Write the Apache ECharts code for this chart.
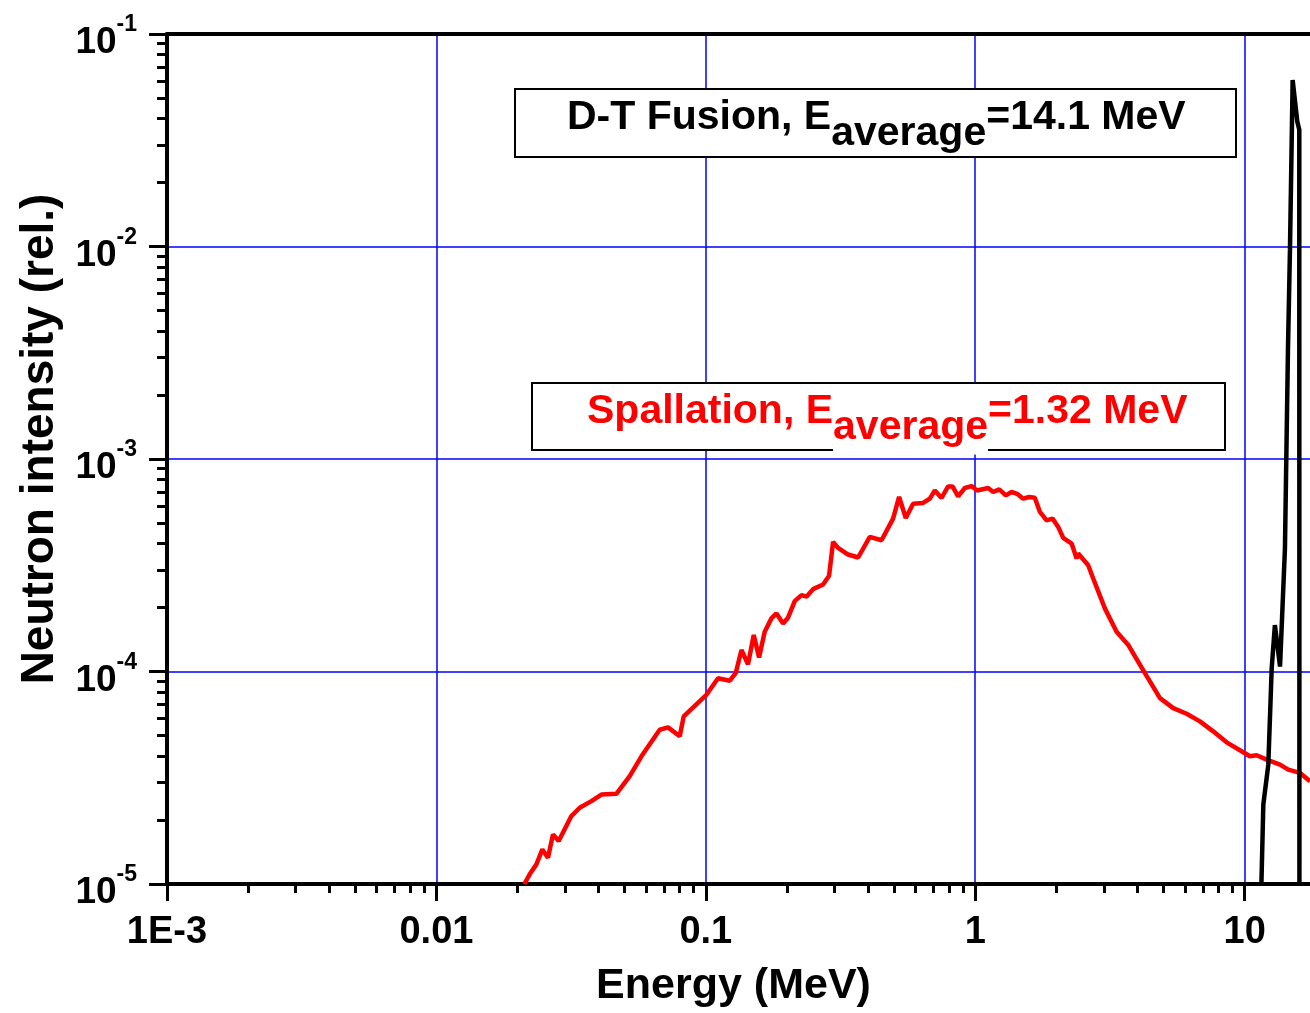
<!DOCTYPE html>
<html>
<head>
<meta charset="utf-8">
<script src="https://cdn.jsdelivr.net/npm/echarts@6/dist/echarts.min.js"></script>
<style>
html,body{margin:0;padding:0;background:#fff;}
#chart{width:1310px;height:1013px;}
</style>
</head>
<body>
<div id="chart"></div>
<script>
// ---- data ----
const spallationE = [0.0212,0.02219,0.0235,0.02473,0.02594,0.02708,0.02844,0.03169,0.03402,0.0376,0.04096,0.04656,0.05218,0.05768,0.06742,0.0724,0.07999,0.08277,0.1005,0.111,0.1227,0.1291,0.1356,0.1434,0.1506,0.1576,0.1654,0.1752,0.1829,0.1935,0.2019,0.2138,0.2265,0.2364,0.2501,0.2724,0.2867,0.2967,0.3097,0.3373,0.3674,0.4061,0.4489,0.4955,0.5216,0.5524,0.588,0.6405,0.6783,0.7079,0.7496,0.793,0.8235,0.8639,0.9149,0.9689,1.016,1.117,1.166,1.227,1.299,1.364,1.431,1.506,1.586,1.664,1.738,1.84,1.937,2.032,2.121,2.279,2.378,2.411,2.626,2.741,3.028,3.347,3.697,4.264,4.849,5.432,6.09,6.823,7.643,8.572,9.745,10.46,11.08,12.07,13.53,14.52,16.05,17.48];
const spallationI = [1.0e-5,1.11e-5,1.237e-5,1.455e-5,1.33e-5,1.71e-5,1.593e-5,2.088e-5,2.284e-5,2.455e-5,2.636e-5,2.656e-5,3.216e-5,3.99e-5,5.321e-5,5.459e-5,4.955e-5,6.148e-5,7.77e-5,9.3e-5,9.05e-5,9.82e-5,1.263e-4,1.082e-4,1.485e-4,1.163e-4,1.54e-4,1.778e-4,1.877e-4,1.684e-4,1.792e-4,2.145e-4,2.288e-4,2.249e-4,2.441e-4,2.569e-4,2.822e-4,4.074e-4,3.818e-4,3.552e-4,3.439e-4,4.3e-4,4.145e-4,5.241e-4,6.627e-4,5.28e-4,6.163e-4,6.21e-4,6.504e-4,7.114e-4,6.554e-4,7.43e-4,7.43e-4,6.668e-4,7.301e-4,7.46e-4,7.114e-4,7.301e-4,6.994e-4,7.193e-4,6.74e-4,6.994e-4,6.858e-4,6.504e-4,6.627e-4,6.577e-4,5.633e-4,5.144e-4,5.241e-4,4.79e-4,4.253e-4,4.0e-4,3.402e-4,3.591e-4,3.163e-4,2.741e-4,1.982e-4,1.54e-4,1.333e-4,9.82e-5,7.49e-5,6.727e-5,6.324e-5,5.824e-5,5.229e-5,4.642e-5,4.213e-5,3.99e-5,4.034e-5,3.847e-5,3.644e-5,3.453e-5,3.333e-5,3.047e-5];

const fusionE = [11.54,11.73,12.24,12.6,12.95,13.53,14.11,14.48,14.73,14.95,15.07,15.68,15.95,15.95,15.96,15.97];
const fusionI = [1.0e-5,2.366e-5,3.644e-5,1.036e-4,1.654e-4,1.055e-4,3.79e-4,3.289e-3,9.69e-3,3.181e-2,6.08e-2,3.878e-2,3.544e-2,9.69e-3,3.79e-4,1.0e-5];

const xTickValues = [0.001,0.01,0.1,1,10];
const xTickLabels = ['1E-3','0.01','0.1','1','10'];
const yTickValues = [1e-5,1e-4,1e-3,1e-2,1e-1];
const yTickExponents = ['-5','-4','-3','-2','-1'];
const xMin = 0.001, xMax = 17.48;
const yMin = 1e-5, yMax = 0.1;

const legendFusion = ['D-T Fusion, E','average','=14.1 MeV'];
const legendSpall = ['Spallation, E','average','=1.32 MeV'];

// minor tick positions (2..9 x 10^n)
function minorTicks(lo, hi){
  const out=[];
  for(let p=Math.floor(Math.log10(lo)); p<=Math.ceil(Math.log10(hi)); p++){
    for(let d=2; d<=9; d++){
      const v = d*Math.pow(10,p);
      if(v>lo && v<hi) out.push(v);
    }
  }
  return out;
}
const xMinor = minorTicks(xMin, xMax);
const yMinor = minorTicks(yMin, yMax);

function idxOf(arr, v){
  for(let i=0;i<arr.length;i++){ if(Math.abs(Math.log10(arr[i])-Math.log10(v))<1e-6) return i; }
  return -1;
}

const FONT = '"Liberation Sans", Arial, sans-serif';
const chart = echarts.init(document.getElementById('chart'));
const toPairs = (xs, ys) => xs.map((x,i)=>[x, ys[i]]);

const option = {
  animation:false,
  backgroundColor:'#fff',
  grid:{left:167, right:0, top:34, bottom:127, containLabel:false},
  xAxis:[
    {
      type:'log', logBase:10, min:xMin, max:xMax, position:'bottom',
      axisLine:{show:true, onZero:false, lineStyle:{color:'#000', width:4}},
      axisTick:{show:true, length:17, customValues:xTickValues, lineStyle:{color:'#000', width:3}},
      axisLabel:{show:true, customValues:xTickValues, margin:30, color:'#000', fontSize:38, fontWeight:'bold', fontFamily:FONT,
        formatter:function(v){ const i=idxOf(xTickValues,v); return i>=0? xTickLabels[i] : ''; }},
      splitLine:{show:true, lineStyle:{color:'#0000ff', width:1.5}},
      name:'Energy (MeV)', nameLocation:'middle', nameGap:81,
      nameTextStyle:{color:'#000', fontSize:43, fontWeight:'bold', fontFamily:FONT, padding:[0,10,0,0]}
    },
    {
      type:'log', logBase:10, min:xMin, max:xMax, position:'bottom',
      axisLine:{show:false},
      axisTick:{show:true, length:9, customValues:xMinor, lineStyle:{color:'#000', width:3}},
      axisLabel:{show:false}, splitLine:{show:false}
    },
    {
      type:'log', logBase:10, min:xMin, max:xMax, position:'top',
      axisLine:{show:true, onZero:false, lineStyle:{color:'#000', width:4}},
      axisTick:{show:false}, axisLabel:{show:false}, splitLine:{show:false}
    }
  ],
  yAxis:[
    {
      type:'log', logBase:10, min:yMin, max:yMax, position:'left',
      axisLine:{show:true, onZero:false, lineStyle:{color:'#000', width:4}},
      axisTick:{show:true, length:18, customValues:yTickValues, lineStyle:{color:'#000', width:3}},
      axisLabel:{show:true, customValues:yTickValues, margin:30, padding:[7,0,0,0],
        formatter:function(v){ const i=idxOf(yTickValues,v); return i>=0? '{b|10}{s|'+yTickExponents[i]+'}' : ''; },
        rich:{
          b:{fontSize:37, fontWeight:'bold', color:'#000', fontFamily:FONT, lineHeight:48, verticalAlign:'bottom'},
          s:{fontSize:23, fontWeight:'bold', color:'#000', fontFamily:FONT, lineHeight:16, verticalAlign:'top'}
        }},
      splitLine:{show:true, lineStyle:{color:'#0000ff', width:1.5}},
      name:'Neutron intensity (rel.)', nameLocation:'middle', nameGap:104,
      nameTextStyle:{color:'#000', fontSize:46, fontWeight:'bold', fontFamily:FONT, padding:[0,0,0,40]}
    },
    {
      type:'log', logBase:10, min:yMin, max:yMax, position:'left',
      axisLine:{show:false},
      axisTick:{show:true, length:10, customValues:yMinor, lineStyle:{color:'#000', width:3}},
      axisLabel:{show:false}, splitLine:{show:false}
    }
  ],
  series:[
    {
      name:'Spallation', type:'line', xAxisIndex:0, yAxisIndex:0,
      data:toPairs(spallationE, spallationI), showSymbol:false, symbol:'none',
      lineStyle:{color:'#ff0000', width:4.5}, itemStyle:{color:'#ff0000'}, clip:true, z:3
    },
    {
      name:'D-T Fusion', type:'line', xAxisIndex:0, yAxisIndex:0,
      data:toPairs(fusionE, fusionI), showSymbol:false, symbol:'none',
      lineStyle:{color:'#000000', width:4.5}, itemStyle:{color:'#000'}, clip:true, z:4
    }
  ],
  graphic:[
    {type:'rect', z:10, shape:{x:515, y:89, width:721, height:68}, style:{fill:'#fff', stroke:'#000', lineWidth:2}},
    {type:'text', z:11, x:567, y:97, style:{
      text:'{n|'+legendFusion[0]+'}{sub|'+legendFusion[1]+'}{n|'+legendFusion[2]+'}',
      rich:{
        n:{fontSize:41, fontWeight:'bold', fontFamily:FONT, fill:'#000', lineHeight:40, verticalAlign:'top'},
        sub:{fontSize:41, fontWeight:'bold', fontFamily:FONT, fill:'#000', lineHeight:40, padding:[16,0,0,0], verticalAlign:'top'}
      }}},
    {type:'rect', z:10, shape:{x:532, y:383, width:693, height:67}, style:{fill:'#fff', stroke:'#000', lineWidth:2}},
    {type:'text', z:11, x:587, y:391.5, style:{
      text:'{n|'+legendSpall[0]+'}{sub|'+legendSpall[1]+'}{n|'+legendSpall[2]+'}',
      rich:{
        n:{fontSize:41, fontWeight:'bold', fontFamily:FONT, fill:'#ff0000', lineHeight:40, verticalAlign:'top'},
        sub:{fontSize:41, fontWeight:'bold', fontFamily:FONT, fill:'#ff0000', lineHeight:40, padding:[16,0,6,0], verticalAlign:'top', backgroundColor:'#fff'}
      }}}
  ]
};
chart.setOption(option);
</script>
</body>
</html>
